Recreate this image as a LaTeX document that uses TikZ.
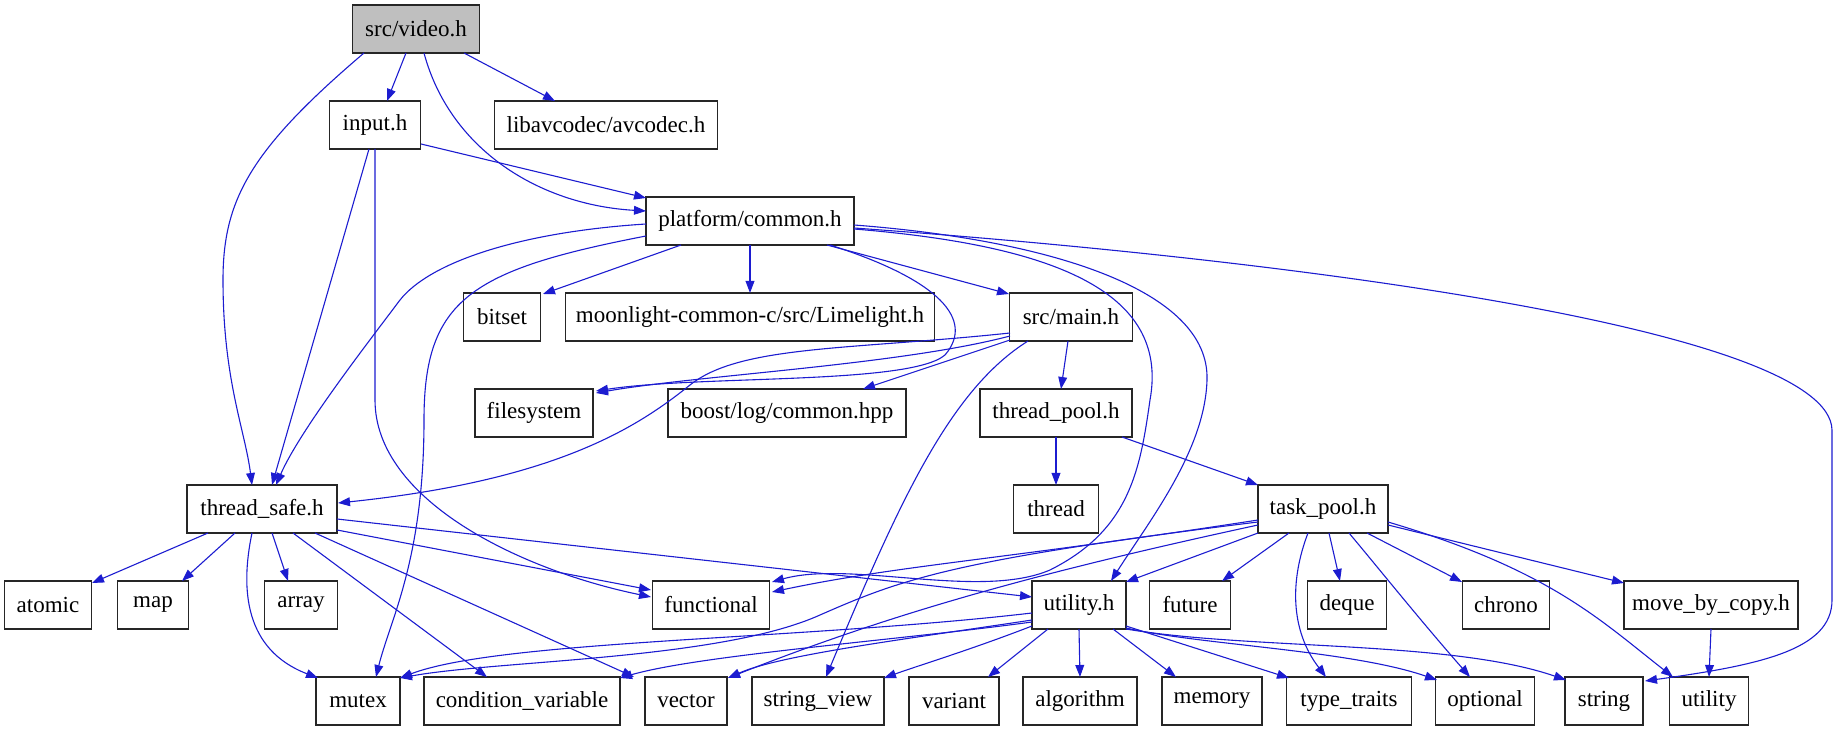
\documentclass[tikz,border=0pt]{standalone}
\usepackage{fontspec}
\setmainfont{Liberation Serif}
\usetikzlibrary{arrows.meta,calc}
\definecolor{eblue}{RGB}{28,28,208}
\definecolor{gfill}{RGB}{191,191,191}
\tikzset{
  nb/.style={draw=black!85, line width=0.65pt, minimum height=24pt, inner sep=0pt, fill=white, font=\fontsize{11.5}{13}\selectfont},
  e/.style={draw=eblue, line width=0.55pt, -{Triangle[length=6pt,width=4.4pt]}, fill=none}
}
\begin{document}
\begin{tikzpicture}[x=0.5pt,y=-0.5pt]
\useasboundingbox (0,0) rectangle (1843,731);
% nodes
\node[nb,fill=gfill,minimum width=63.5pt] (video) at (416,29) {src/video.h};
\node[nb,minimum width=45.5pt] (input) at (375,125) {input.h};
\node[nb,minimum width=111.5pt] (libav) at (606,125) {libavcodec/avcodec.h};
\node[nb,minimum width=104pt] (common) at (750,221) {platform/common.h};
\node[nb,minimum width=38.5pt] (bitset) at (502,317) {bitset};
\node[nb,minimum width=184.5pt] (lime) at (750,317) {moonlight-common-c/src/Limelight.h};
\node[nb,minimum width=61.5pt] (mainh) at (1071,317) {src/main.h};
\node[nb,minimum width=59pt] (fs) at (534,413) {filesystem};
\node[nb,minimum width=119pt] (boost) at (787,413) {boost/log/common.hpp};
\node[nb,minimum width=76pt] (tpool) at (1056,413) {thread\_pool.h};
\node[nb,minimum width=75pt] (tsafe) at (262,509) {thread\_safe.h};
\node[nb,minimum width=42.5pt] (thread) at (1056,509) {thread};
\node[nb,minimum width=65pt] (task) at (1323,509) {task\_pool.h};
\node[nb,minimum width=43.5pt] (atomic) at (48,605) {atomic};
\node[nb,minimum width=35.5pt] (map) at (153,605) {map};
\node[nb,minimum width=36.5pt] (array) at (301,605) {array};
\node[nb,minimum width=58.5pt] (func) at (711,605) {functional};
\node[nb,minimum width=47pt] (utilh) at (1079,605) {utility.h};
\node[nb,minimum width=40.5pt] (future) at (1190,605) {future};
\node[nb,minimum width=39.5pt] (deque) at (1347,605) {deque};
\node[nb,minimum width=43.5pt] (chrono) at (1506,605) {chrono};
\node[nb,minimum width=87pt] (mbc) at (1711,605) {move\_by\_copy.h};
\node[nb,minimum width=42pt] (mutex) at (358,701) {mutex};
\node[nb,minimum width=98pt] (condvar) at (522,701) {condition\_variable};
\node[nb,minimum width=41pt] (vector) at (686,701) {vector};
\node[nb,minimum width=66pt] (sview) at (818,701) {string\_view};
\node[nb,minimum width=45pt] (variant) at (954,701) {variant};
\node[nb,minimum width=57pt] (algo) at (1080,701) {algorithm};
\node[nb,minimum width=50pt] (memory) at (1212,701) {memory};
\node[nb,minimum width=62.5pt] (ttraits) at (1349,701) {type\_traits};
\node[nb,minimum width=49.5pt] (optional) at (1485,701) {optional};
\node[nb,minimum width=39pt] (string) at (1604,701) {string};
\node[nb,minimum width=39.5pt] (utility) at (1709,701) {utility};
% edges from src/video.h
\draw[e] ($(video)+(-10,24)$) -- ($(input)+(12,-24)$);
\draw[e] ($(video)+(48,24)$) -- ($(libav)+(-51,-24)$);
\draw[e] ($(video)+(8,24)$) .. controls (450,150) and (540,205) .. ($(common)+(-104,-10)$);
\draw[e] ($(video)+(-52,24)$) .. controls (250,150) and (223,200) .. (223,280) .. controls (223,380) and (245,430) .. ($(tsafe)+(-10,-24)$);
% input.h
\draw[e] ($(input)+(46,19)$) -- ($(common)+(-104,-23)$);
\draw[e] ($(input)+(-6,24)$) -- ($(tsafe)+(10,-24)$);
\draw[e] ($(input)+(0,24)$) -- (375,400) .. controls (375,500) and (520,570) .. ($(func)+(-60,-8)$);
% platform/common.h
\draw[e] ($(common)+(-69,24)$) -- ($(bitset)+(41,-23)$);
\draw[e] ($(common)+(0,24)$) -- ($(lime)+(0,-24)$);
\draw[e] ($(common)+(77,24)$) -- ($(mainh)+(-62,-23)$);
\draw[e] ($(common)+(-104,3)$) .. controls (520,232) and (430,262) .. (400,300) .. controls (370,340) and (300,430) .. ($(tsafe)+(14,-24)$);
\draw[e] ($(common)+(-104,15)$) .. controls (470,270) and (424,300) .. (424,420) .. controls (424,560) and (390,620) .. ($(mutex)+(18,-24)$);
\draw[e] ($(common)+(80,24)$) .. controls (940,280) and (975,320) .. (945,355) .. controls (910,385) and (700,375) .. ($(fs)+(62,-22)$);
\draw[e] ($(common)+(104,8)$) .. controls (1050,245) and (1170,290) .. (1150,400) .. controls (1140,470) and (1130,530) .. (1050,570) .. controls (980,600) and (850,560) .. ($(func)+(61,-23)$);
\draw[e] ($(common)+(104,4)$) .. controls (1050,240) and (1210,290) .. (1207,380) .. controls (1205,450) and (1150,520) .. ($(utilh)+(32,-24)$);
\draw[e] ($(common)+(104,7)$) .. controls (1300,260) and (1830,330) .. (1832,430) -- (1832,600) .. controls (1832,650) and (1760,665) .. ($(string)+(41,-20)$);
% src/main.h
\draw[e] ($(mainh)+(-61,16)$) .. controls (850,350) and (740,345) .. (690,385) .. controls (640,425) and (560,480) .. ($(tsafe)+(76,-6)$);
\draw[e] ($(mainh)+(-61,19)$) .. controls (900,365) and (700,375) .. ($(fs)+(62,-20)$);
\draw[e] ($(mainh)+(-61,23)$) -- ($(boost)+(76,-24)$);
\draw[e] ($(mainh)+(-43,24)$) .. controls (950,390) and (900,500) .. ($(sview)+(8,-24)$);
\draw[e] ($(mainh)+(-3,24)$) -- ($(tpool)+(5,-24)$);
% thread_pool.h
\draw[e] ($(tpool)+(0,24)$) -- ($(thread)+(0,-24)$);
\draw[e] ($(tpool)+(66,24)$) -- ($(task)+(-65,-24)$);
% task_pool.h
\draw[e] ($(task)+(-65,24)$) -- ($(utilh)+(47,-23)$);
\draw[e] ($(task)+(-34,24)$) -- ($(future)+(32,-24)$);
\draw[e] ($(task)+(-15,24)$) .. controls (1290,580) and (1290,630) .. ($(ttraits)+(-23,-24)$);
\draw[e] ($(task)+(6,24)$) -- ($(deque)+(-7,-24)$);
\draw[e] ($(task)+(26,24)$) .. controls (1380,570) and (1420,620) .. ($(optional)+(-15,-24)$);
\draw[e] ($(task)+(44,24)$) -- ($(chrono)+(-44,-23)$);
\draw[e] ($(task)+(65,16)$) -- ($(mbc)+(-87,-22)$);
\draw[e] ($(task)+(65,13)$) .. controls (1550,570) and (1600,620) .. ($(utility)+(-36,-24)$);
\draw[e] ($(task)+(-65,11)$) .. controls (1000,560) and (900,565) .. ($(func)+(61,-13)$);
\draw[e] ($(task)+(-65,13)$) .. controls (950,560) and (900,580) .. (820,615) .. controls (720,660) and (500,660) .. ($(mutex)+(42,-23)$);
\draw[e] ($(task)+(-65,16)$) .. controls (1050,570) and (900,610) .. ($(vector)+(42,-23)$);
% move_by_copy.h
\draw[e] ($(mbc)+(0,24)$) -- ($(utility)+(0,-24)$);
% thread_safe.h
\draw[e] ($(tsafe)+(-54,24)$) -- ($(atomic)+(44,-22)$);
\draw[e] ($(tsafe)+(-27,24)$) -- ($(map)+(29,-24)$);
\draw[e] ($(tsafe)+(10,24)$) -- ($(array)+(-13,-24)$);
\draw[e] ($(tsafe)+(-10,24)$) .. controls (240,590) and (245,650) .. ($(mutex)+(-40,-23)$);
\draw[e] ($(tsafe)+(31,24)$) -- ($(condvar)+(-35,-24)$);
\draw[e] ($(tsafe)+(53,24)$) -- ($(vector)+(-52,-24)$);
\draw[e] ($(tsafe)+(75,21)$) -- ($(func)+(-60,-15)$);
\draw[e] ($(tsafe)+(75,10)$) -- ($(utilh)+(-47,-8)$);
% utility.h
\draw[e] ($(utilh)+(-47,8)$) .. controls (800,640) and (500,640) .. ($(mutex)+(42,-23)$);
\draw[e] ($(utilh)+(-47,17)$) .. controls (900,640) and (700,655) .. ($(condvar)+(98,-23)$);
\draw[e] ($(utilh)+(-47,15)$) .. controls (900,640) and (780,655) .. ($(vector)+(42,-23)$);
\draw[e] ($(utilh)+(-47,21)$) .. controls (970,650) and (920,665) .. ($(sview)+(66,-23)$);
\draw[e] ($(utilh)+(-31,24)$) -- ($(variant)+(34,-24)$);
\draw[e] ($(utilh)+(0,24)$) -- ($(algo)+(0,-24)$);
\draw[e] ($(utilh)+(34,24)$) -- ($(memory)+(-36,-24)$);
\draw[e] ($(utilh)+(47,21)$) -- ($(ttraits)+(-60,-23)$);
\draw[e] ($(utilh)+(47,23)$) .. controls (1200,645) and (1350,650) .. ($(optional)+(-48,-21)$);
\draw[e] ($(utilh)+(47,24)$) .. controls (1250,650) and (1450,640) .. ($(string)+(-38,-21)$);
\end{tikzpicture}
\end{document}
